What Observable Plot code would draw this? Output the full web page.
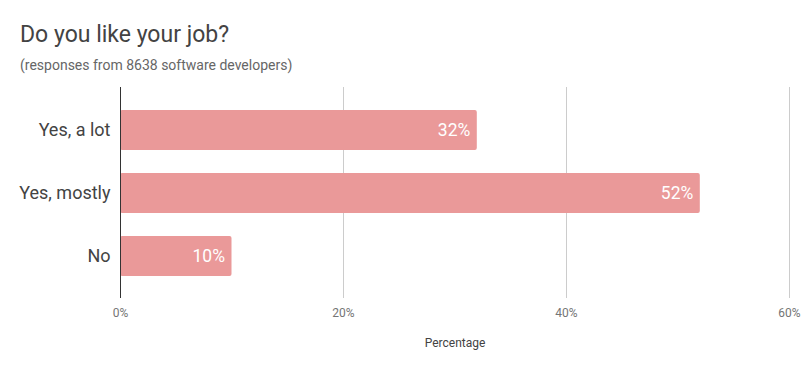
<!DOCTYPE html>
<html>
<head>
<meta charset="utf-8">
<script src="https://cdn.jsdelivr.net/npm/d3@7"></script>
<script src="https://cdn.jsdelivr.net/npm/@observablehq/plot@0.6"></script>
<style>
  body { margin: 0; background: #fff; font-family: Roboto, "Noto Sans", sans-serif; }
  #wrap { width: 809px; height: 371px; position: relative; overflow: hidden; }
  #title { position: absolute; left: 20px; top: 22.6px; font-size: 23px; color: #434343; line-height: 1; white-space: nowrap; }
  #subtitle { position: absolute; left: 20px; top: 58px; font-size: 14px; color: #666; line-height: 1; white-space: nowrap; }
  #chart { position: absolute; left: 0; top: 80px; }
</style>
</head>
<body>
<div id="wrap">
  <div id="title">Do you like your job?</div>
  <div id="subtitle">(responses from 8638 software developers)</div>
  <div id="chart"></div>
</div>
<script>
const categories = ["Yes, a lot", "Yes, mostly", "No"];
const values = [32, 52, 10];
const xTicks = [0, 20, 40, 60];
const xLabel = "Percentage";

const data = categories.map((c, i) => ({category: c, value: values[i]}));

const chart = Plot.plot({
  width: 809,
  height: 291,
  marginTop: 7,
  marginBottom: 73,
  marginLeft: 120,
  marginRight: 20,
  style: {fontFamily: "Roboto, 'Noto Sans', sans-serif", background: "#fff"},
  x: {domain: [0, 60], ticks: xTicks, tickFormat: d => d + "%", label: null},
  y: {domain: categories, paddingInner: 0.37, paddingOuter: 0.345, label: null},
  marks: [
    Plot.gridX(xTicks.filter(d => d !== 0), {stroke: "#cccccc", strokeOpacity: 1, strokeWidth: 1}),
    Plot.barX(data, {x: "value", y: "category", fill: "#ea9999", rx: 2}),
    Plot.ruleX([0], {stroke: "#333", strokeWidth: 1}),
    Plot.text(data, {x: "value", y: "category", text: d => d.value + "%", textAnchor: "end", dx: -7, fill: "#ffffff", fontSize: 17.5}),
    Plot.axisY({tickSize: 0, tickPadding: 10, fontSize: 18, color: "#434343", label: null}),
    Plot.axisX({ticks: xTicks, tickFormat: d => d + "%", tickSize: 0, tickPadding: 10, fontSize: 12, color: "#757575", label: null}),
    Plot.text([xLabel], {frameAnchor: "bottom", text: d => d, dy: 48, fontSize: 12, fill: "#434343"})
  ]
});
document.getElementById("chart").appendChild(chart);
</script>
</body>
</html>
